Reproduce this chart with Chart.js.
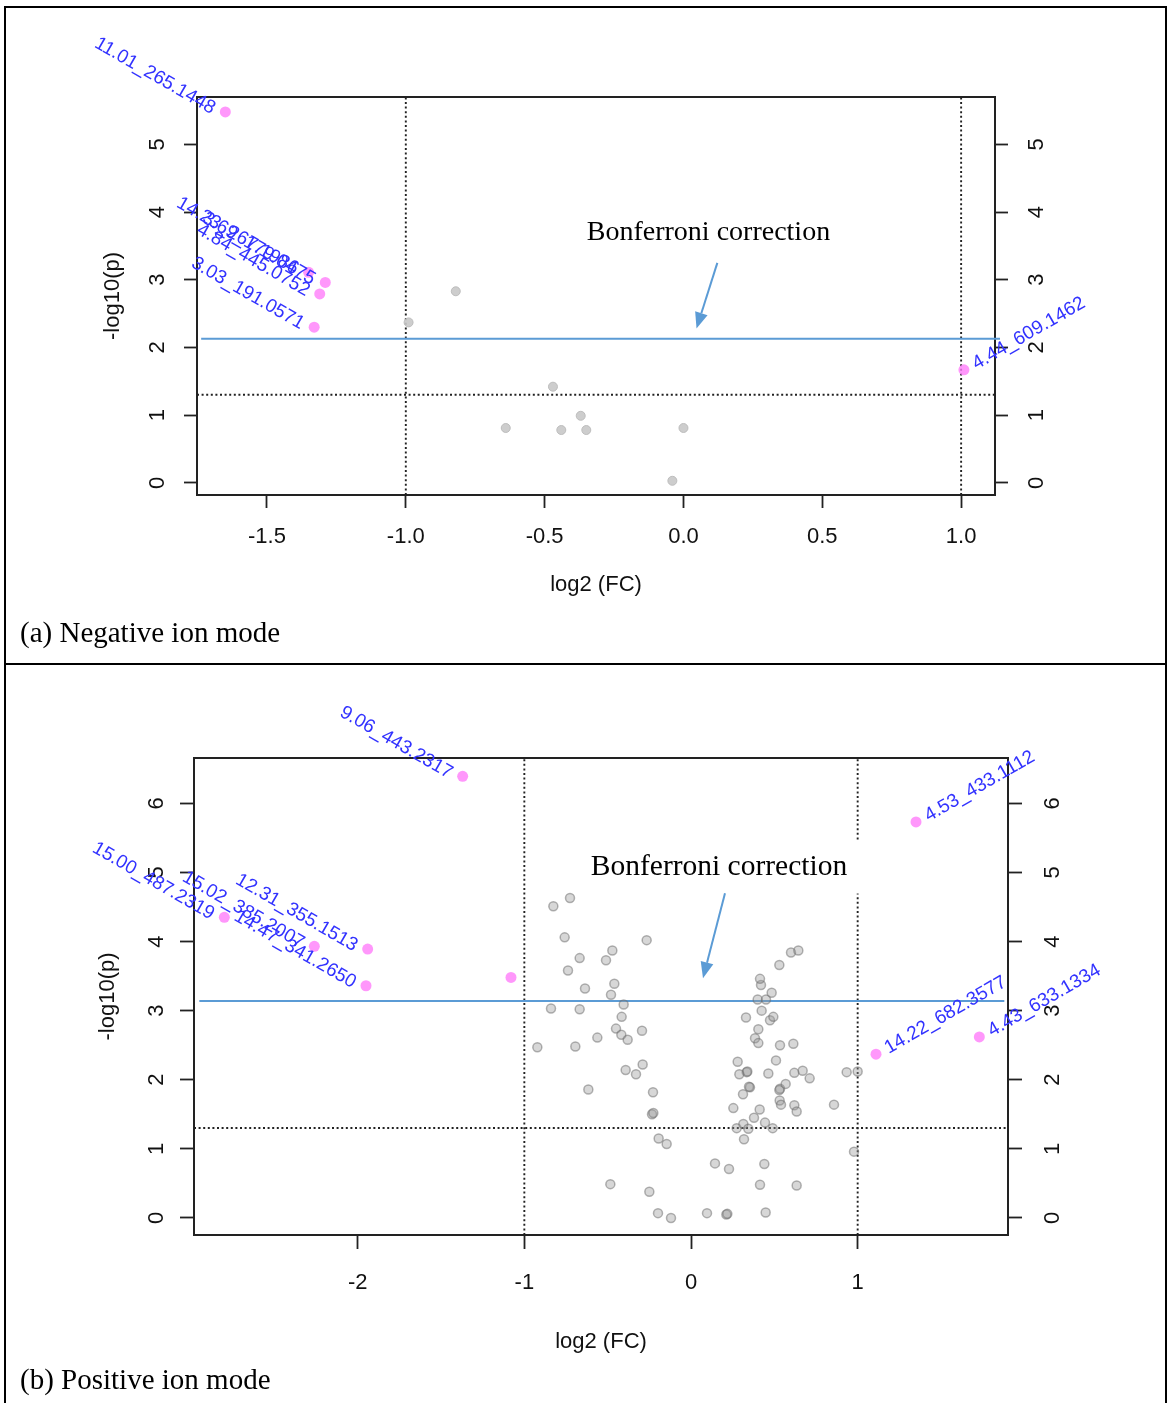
<!DOCTYPE html>
<html>
<head>
<meta charset="utf-8">
<script src="https://cdn.jsdelivr.net/npm/chart.js@4.4.1/dist/chart.umd.min.js"></script>
<style>
  body { margin: 0; background: #fff; }
  #page { position: relative; width: 1167px; height: 1403px; overflow: hidden; background: #fff; }
  #page canvas { position: absolute; left: 0; }
  .rule { position: absolute; background: #000; }
  .caption { position: absolute; left: 20px; font-family: "Liberation Serif", "Times New Roman", serif; font-size: 29px; line-height: 1; color: #000; white-space: nowrap; }
</style>
</head>
<body>
<div id="page">
  <canvas id="negChart" width="1167" height="620" style="top:0"></canvas>
  <canvas id="posChart" width="1167" height="738" style="top:665px"></canvas>

  <div class="rule" style="left:4px;top:6px;width:1163px;height:2px"></div>
  <div class="rule" style="left:4px;top:6px;width:2px;height:1397px"></div>
  <div class="rule" style="left:1165px;top:6px;width:2px;height:1397px"></div>
  <div class="rule" style="left:4px;top:663px;width:1163px;height:2px"></div>

  <div class="caption" style="top:618px">(a) Negative ion mode</div>
  <div class="caption" style="top:1365px">(b) Positive ion mode</div>
</div>

<script>
const sansFont = '"Liberation Sans", Arial, sans-serif';
const serifFont = '"Liberation Serif", "Times New Roman", serif';

// (a) Negative ion mode - features past the cutoffs (labelled)
const negSigNames = ['11.01_265.1448', '14.23_267.1986', '3.69_179.0475', '4.84_445.0752', '3.03_191.0571', '4.44_609.1462'];
const negSigFC = [-1.65, -1.35, -1.29, -1.31, -1.33, 1.01];
const negSigP = [5.48, 3.11, 2.96, 2.79, 2.30, 1.67];
// everything else
const negOtherFC = [-0.82, -0.99, -0.47, -0.64, -0.44, -0.37, -0.35, 0.00, -0.04];
const negOtherP = [2.83, 2.37, 1.42, 0.81, 0.78, 0.99, 0.78, 0.81, 0.03];
const negXTicks = [-1.5, -1.0, -0.5, 0.0, 0.5, 1.0];
const negYTicks = [0, 1, 2, 3, 4, 5];
const negBonferroni = 2.13;
const negBonfSpan = [-1.737, 1.14];

// (b) Positive ion mode
const posSigNames = ['9.06_443.2317', '15.00_487.2319', '15.02_385.2007', '12.31_355.1513', '14.47_341.2650', '', '4.53_433.1112', '14.22_682.3577', '4.43_633.1334'];
const posSigFC = [-1.37, -2.80, -2.26, -1.94, -1.95, -1.08, 1.35, 1.11, 1.73];
const posSigP = [6.39, 4.35, 3.93, 3.89, 3.36, 3.48, 5.73, 2.37, 2.62];
const posOtherFC = [
  -0.826, -0.726, -0.758, -0.266, -0.668, -0.472, -0.510, -0.738, -0.460, -0.636,
  -0.480, -0.404, -0.840, -0.668, -0.416, -0.450, -0.418, -0.380, -0.294, -0.562,
  -0.922, -0.694, -0.392, -0.330, -0.290, -0.616, -0.228, -0.234, -0.226, -0.194,
  -0.146, -0.484, -0.250, -0.198, -0.120, 0.096, 0.212, 0.218, 0.448, 0.144,
  0.228, 0.440, 0.414, 0.634, 0.978, 0.318, 0.274, 0.314, 0.344, 0.444,
  0.490, 0.378, 0.254, 0.412, 0.312, 0.354, 0.348, 0.334, 0.338, 0.290,
  0.280, 0.464, 0.510, 0.534, 0.530, 0.568, 0.532, 0.540, 0.620, 0.634,
  0.620, 0.670, 0.712, 0.858, 0.934, 1.000, 0.534, 0.614, 0.384, 0.404,
  0.404, 0.474, 0.494, 0.330, 0.424, 0.400, 0.450, 0.484, 0.420, 0.414,
  0.530, 0.600, 0.644
];
const posOtherP = [
  4.51, 4.63, 4.06, 4.02, 3.76, 3.87, 3.73, 3.58, 3.39, 3.32,
  3.23, 3.09, 3.03, 3.02, 2.91, 2.74, 2.65, 2.58, 2.71, 2.61,
  2.47, 2.48, 2.14, 2.08, 2.22, 1.86, 1.82, 1.50, 1.52, 1.15,
  1.07, 0.49, 0.38, 0.07, 0.00, 0.07, 0.05, 0.06, 0.08, 0.79,
  0.71, 0.78, 0.48, 0.47, 0.96, 1.14, 1.30, 1.36, 1.29, 1.38,
  1.30, 1.45, 1.59, 1.57, 1.79, 1.89, 1.90, 2.11, 2.12, 2.08,
  2.26, 2.09, 2.28, 1.87, 1.85, 1.94, 1.70, 1.64, 1.63, 1.54,
  2.10, 2.13, 2.02, 1.64, 2.11, 2.12, 2.50, 2.52, 2.60, 2.53,
  2.73, 2.86, 2.91, 2.90, 3.00, 3.16, 3.16, 3.26, 3.37, 3.46,
  3.66, 3.84, 3.87
];
const posXTicks = [-2, -1, 0, 1];
const posYTicks = [0, 1, 2, 3, 4, 5, 6];
const posBonferroni = 3.14;
const posBonfSpan = [-2.95, 1.88];

// shared cutoffs: |log2 FC| = 1 and p = 0.05
const fcCutoffs = [-1, 1];
const pCutoff = 1.301;

const inkColor = '#111';
const lineInk = '#222';
const bonfColor = '#5b9bd5';

function toPoints(xs, ys) {
  return xs.map((x, i) => ({ x: x, y: ys[i] }));
}

// plot frame (top edge is not covered by an axis)
const framePlugin = {
  id: 'frame',
  beforeDatasetsDraw(chart) {
    const { ctx, chartArea: a } = chart;
    ctx.save();
    ctx.strokeStyle = lineInk;
    ctx.lineWidth = 2;
    ctx.strokeRect(a.left, a.top, a.right - a.left, a.bottom - a.top);
    ctx.restore();
  }
};

// feature names next to the significant points
const tagPlugin = {
  id: 'tags',
  afterDatasetsDraw(chart, args, opts) {
    const ctx = chart.ctx;
    const meta = chart.getDatasetMeta(0);
    const pts = chart.data.datasets[0].data;
    ctx.save();
    ctx.font = '19px ' + sansFont;
    ctx.fillStyle = 'rgb(50,50,255)';
    ctx.textBaseline = 'middle';
    meta.data.forEach((el, i) => {
      const name = opts.names[i];
      if (!name) return;
      const toRight = pts[i].x > 0;
      ctx.save();
      ctx.translate(el.x, el.y);
      ctx.rotate(toRight ? -Math.PI / 6 : Math.PI / 6);
      ctx.textAlign = toRight ? 'left' : 'right';
      ctx.fillText(name, toRight ? 11 : -11, toRight ? 1 : 4);
      ctx.restore();
    });
    ctx.restore();
  }
};

// "Bonferroni correction" note with its arrow
const notePlugin = {
  id: 'note',
  afterDatasetsDraw(chart, args, opts) {
    const { ctx, scales: { x, y } } = chart;
    const tx = x.getPixelForValue(opts.at[0]);
    const ty = y.getPixelForValue(opts.at[1]);
    ctx.save();
    ctx.font = opts.size + 'px ' + serifFont;
    const w = ctx.measureText(opts.text).width;
    ctx.fillStyle = '#fff';
    ctx.fillRect(tx - w / 2 - 14, ty - 26, w + 28, 52);
    ctx.fillStyle = '#000';
    ctx.textAlign = 'center';
    ctx.textBaseline = 'middle';
    ctx.fillText(opts.text, tx, ty);

    const x0 = x.getPixelForValue(opts.from[0]), y0 = y.getPixelForValue(opts.from[1]);
    const x1 = x.getPixelForValue(opts.to[0]), y1 = y.getPixelForValue(opts.to[1]);
    const ang = Math.atan2(y1 - y0, x1 - x0);
    const head = 16, half = 6.5;
    ctx.strokeStyle = bonfColor;
    ctx.fillStyle = bonfColor;
    ctx.lineWidth = 2;
    ctx.beginPath();
    ctx.moveTo(x0, y0);
    ctx.lineTo(x1 - head * Math.cos(ang), y1 - head * Math.sin(ang));
    ctx.stroke();
    ctx.beginPath();
    ctx.moveTo(x1, y1);
    ctx.lineTo(x1 - head * Math.cos(ang) + half * Math.sin(ang), y1 - head * Math.sin(ang) - half * Math.cos(ang));
    ctx.lineTo(x1 - head * Math.cos(ang) - half * Math.sin(ang), y1 - head * Math.sin(ang) + half * Math.cos(ang));
    ctx.closePath();
    ctx.fill();
    ctx.restore();
  }
};

function makeVolcano(canvasId, s) {
  const tickFont = { family: sansFont, size: 22 };
  const dotted = { borderColor: '#222', borderWidth: 1.9, borderDash: [2, 2.6], pointRadius: 0, showLine: true, fill: false };

  const yAxis = (position, width, pad) => ({
    type: 'linear',
    position: position,
    min: s.yMin,
    max: s.yMax,
    afterBuildTicks: sc => { sc.ticks = s.yTicks.map(v => ({ value: v })); },
    afterFit: sc => { sc.width = width; },
    ticks: {
      font: tickFont, color: inkColor, padding: pad, autoSkip: false,
      minRotation: 90, maxRotation: 90, crossAlign: 'center',
      callback: v => String(v)
    },
    grid: { drawOnChartArea: false, tickLength: s.tickLen, tickColor: lineInk, tickWidth: 1.8 },
    border: { display: true, color: lineInk, width: 2 },
    title: position === 'left'
      ? { display: true, text: '-log10(p)', font: tickFont, color: inkColor, padding: { top: s.yTitlePad } }
      : { display: false }
  });

  return new Chart(document.getElementById(canvasId), {
    type: 'scatter',
    data: {
      datasets: [
        {
          label: 'significant',
          data: toPoints(s.sigFC, s.sigP),
          pointRadius: 5.5,
          pointBackgroundColor: 'rgba(255,125,250,0.8)',
          pointBorderWidth: 0,
          order: 0
        },
        {
          label: 'other',
          data: toPoints(s.otherFC, s.otherP),
          pointRadius: 4.5,
          pointBackgroundColor: s.grayFill,
          pointBorderColor: s.grayEdge,
          pointBorderWidth: s.grayEdgeWidth,
          order: 1
        },
        {
          label: 'Bonferroni',
          data: [{ x: s.bonfSpan[0], y: s.bonf }, { x: s.bonfSpan[1], y: s.bonf }],
          showLine: true, pointRadius: 0, borderColor: bonfColor, borderWidth: 2,
          clip: 12,
          order: 2
        },
        Object.assign({ label: 'fc low', data: [{ x: fcCutoffs[0], y: s.yMin }, { x: fcCutoffs[0], y: s.yMax }], order: 3 }, dotted),
        Object.assign({ label: 'fc high', data: [{ x: fcCutoffs[1], y: s.yMin }, { x: fcCutoffs[1], y: s.yMax }], order: 3 }, dotted),
        Object.assign({ label: 'p 0.05', data: [{ x: s.xMin, y: pCutoff }, { x: s.xMax, y: pCutoff }], order: 3 }, dotted)
      ]
    },
    options: {
      responsive: false,
      animation: false,
      devicePixelRatio: 1,
      layout: { padding: { top: s.top, left: 0, right: 0, bottom: 0 } },
      plugins: {
        legend: { display: false },
        tooltip: { enabled: false },
        tags: { names: s.sigNames },
        note: s.note
      },
      scales: {
        x: {
          type: 'linear',
          position: 'bottom',
          min: s.xMin,
          max: s.xMax,
          afterBuildTicks: sc => { sc.ticks = s.xTicks.map(v => ({ value: v })); },
          afterFit: sc => { sc.height = s.xAxisHeight; },
          ticks: { font: tickFont, color: inkColor, padding: s.xTickPad, autoSkip: false, maxRotation: 0, callback: s.xFormat },
          grid: { drawOnChartArea: false, tickLength: s.tickLen, tickColor: lineInk, tickWidth: 1.8 },
          border: { display: true, color: lineInk, width: 2 },
          title: { display: true, text: 'log2 (FC)', font: tickFont, color: inkColor, padding: { bottom: s.xTitlePad } }
        },
        y: yAxis('left', s.leftWidth, s.leftPad),
        y2: yAxis('right', s.rightWidth, s.rightPad)
      }
    },
    plugins: [framePlugin, tagPlugin, notePlugin]
  });
}

makeVolcano('negChart', {
  sigNames: negSigNames, sigFC: negSigFC, sigP: negSigP,
  otherFC: negOtherFC, otherP: negOtherP,
  grayFill: 'rgba(200,200,200,0.9)', grayEdge: 'rgba(185,185,185,0.9)', grayEdgeWidth: 1,
  xTicks: negXTicks, yTicks: negYTicks,
  xFormat: v => v.toFixed(1),
  bonf: negBonferroni, bonfSpan: negBonfSpan,
  xMin: -1.752, xMax: 1.122, yMin: -0.18, yMax: 5.70,
  top: 97, leftWidth: 197, rightWidth: 172, xAxisHeight: 125,
  tickLen: 13, leftPad: 20, rightPad: 23, xTickPad: 16,
  xTitlePad: 22, yTitlePad: 100,
  note: { text: 'Bonferroni correction', size: 28, at: [0.09, 3.70], from: [0.122, 3.25], to: [0.047, 2.28] }
});

makeVolcano('posChart', {
  sigNames: posSigNames, sigFC: posSigFC, sigP: posSigP,
  otherFC: posOtherFC, otherP: posOtherP,
  grayFill: 'rgba(150,150,150,0.38)', grayEdge: 'rgba(105,105,105,0.5)', grayEdgeWidth: 1.5,
  xTicks: posXTicks, yTicks: posYTicks,
  xFormat: v => String(v),
  bonf: posBonferroni, bonfSpan: posBonfSpan,
  xMin: -2.982, xMax: 1.902, yMin: -0.246, yMax: 6.655,
  top: 93, leftWidth: 194, rightWidth: 159, xAxisHeight: 168,
  tickLen: 14, leftPad: 17, rightPad: 25, xTickPad: 21,
  xTitlePad: 48, yTitlePad: 95,
  note: { text: 'Bonferroni correction', size: 29.5, at: [0.168, 5.07], from: [0.204, 4.70], to: [0.072, 3.47] }
});
</script>
</body>
</html>
